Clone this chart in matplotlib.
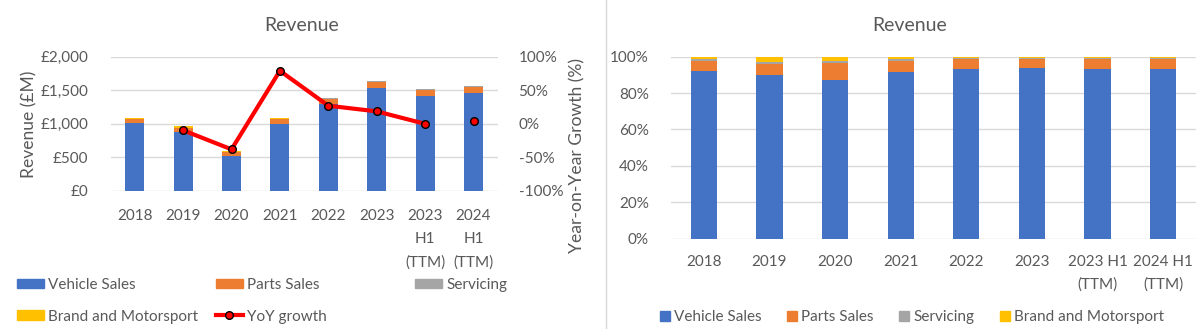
import numpy as np
import matplotlib
matplotlib.use("Agg")
import matplotlib.pyplot as plt
from matplotlib.patches import Patch
from matplotlib.lines import Line2D
from matplotlib.ticker import FuncFormatter

categories_left = ["2018", "2019", "2020", "2021", "2022", "2023", "2023\nH1\n(TTM)", "2024\nH1\n(TTM)"]
categories_right = ["2018", "2019", "2020", "2021", "2022", "2023", "2023 H1\n(TTM)", "2024 H1\n(TTM)"]
vehicle_sales = [1007, 876, 526, 1000, 1295, 1538, 1419, 1465]
parts_sales = [59, 58, 56, 65, 75, 80, 82, 85]
servicing = [12, 11, 6, 12, 11, 13, 12, 12]
brand_motorsport = [14, 28, 14, 15, 7, 9, 8, 8]
yoy_growth = [np.nan, -0.096, -0.38, 0.79, 0.27, 0.186, 0.0, 0.037]

series_names = ["Vehicle Sales", "Parts Sales", "Servicing", "Brand and Motorsport"]
colors = ["#4472C4", "#ED7D31", "#A5A5A5", "#FFC000"]
TXT = "#595959"
GRID = "#D9D9D9"

plt.rcParams['font.family'] = ['Lato', 'DejaVu Sans']
W, H = 1200, 329
fig = plt.figure(figsize=(W / 100, H / 100), dpi=100)

def fx(px):
    return px / W

def fy(py):
    return 1 - py / H

series = [vehicle_sales, parts_sales, servicing, brand_motorsport]
x = np.arange(len(categories_left))

# ---------- Left chart ----------
axL = fig.add_axes([fx(110.5), fy(191), fx(497.7) - fx(110.5), fy(56.7) - fy(191)])
bottom = np.zeros(len(x))
for vals, c, n in zip(series, colors, series_names):
    axL.bar(x, vals, width=0.39, bottom=bottom, color=c, label=n, zorder=2)
    bottom += np.array(vals)
axL.set_xlim(-0.5, len(x) - 0.5)
axL.set_ylim(0, 2000)
axL.set_yticks([0, 500, 1000, 1500, 2000])
axL.yaxis.set_major_formatter(FuncFormatter(lambda v, p: f"£{v:,.0f}"))
axL.grid(axis='y', color=GRID, lw=1, zorder=0)
axL.set_axisbelow(True)
for s in axL.spines.values():
    s.set_visible(False)
axL.tick_params(axis='both', length=0, labelsize=11, labelcolor=TXT)
axL.tick_params(axis='y', pad=16)
axL.tick_params(axis='x', pad=13)
axL.set_xticks(x)
axL.set_xticklabels(categories_left, linespacing=1.8)

axR2 = axL.twinx()
yy = np.array(yoy_growth)
axR2.plot(x[1:7], yy[1:7], color="#FF0000", lw=3, marker='o', ms=5.5,
          mfc="#FF0000", mec="black", mew=1, zorder=5)
axR2.plot(x[7:], yy[7:], color="#FF0000", lw=3, marker='o', ms=5.5,
          mfc="#FF0000", mec="black", mew=1, ls='none', zorder=5)
axR2.set_ylim(-1, 1)
axR2.set_yticks([-1, -0.5, 0, 0.5, 1])
axR2.yaxis.set_major_formatter(FuncFormatter(lambda v, p: f"{v*100:.0f}%"))
for s in axR2.spines.values():
    s.set_visible(False)
axR2.tick_params(axis='y', length=0, labelsize=11, labelcolor=TXT, pad=15)

fig.text(fx(302), fy(30.7), "Revenue", ha='center', va='baseline', fontsize=14, color=TXT)
fig.text(fx(29), fy(124.5), "Revenue (£M)", rotation=90, ha='center', va='center', fontsize=12.6, color=TXT)
fig.text(fx(577), fy(156), "Year-on-Year Growth (%)", rotation=90, ha='center', va='center', fontsize=12.6, color=TXT)

# left legend entries (manual placement)
handles = [Patch(color=c) for c in colors] + [
    Line2D([0], [0], color="#FF0000", lw=3, marker='o', ms=5.5, mfc="#FF0000", mec="black", mew=1)]
labels = series_names + ["YoY growth"]
positions = [(17, 285), (216, 285), (415, 285), (17, 316.5), (216, 316.5)]
for h, l, (px, py) in zip(handles, labels, positions):
    fig.legend([h], [l], loc='center left', bbox_to_anchor=(fx(px), fy(py)),
               frameon=False, fontsize=11, labelcolor=TXT, borderpad=0, borderaxespad=0,
               handlelength=1.75, handleheight=0.55, handletextpad=0.3)

# divider
fig.add_artist(Line2D([fx(606), fx(606)], [0, 1], color=GRID, lw=1))

# ---------- Right chart ----------
axP = fig.add_axes([fx(671), fy(238.5), fx(1196) - fx(671), fy(56.7) - fy(238.5)])
tot = np.sum(np.array(series), axis=0)
bottom = np.zeros(len(x))
for vals, c, n in zip(series, colors, series_names):
    pct = np.array(vals) / tot
    axP.bar(x, pct, width=0.4, bottom=bottom, color=c, label=n, zorder=2)
    bottom += pct
axP.set_xlim(-0.5, len(x) - 0.5)
axP.set_ylim(0, 1)
axP.set_yticks(np.arange(0, 1.01, 0.2))
axP.yaxis.set_major_formatter(FuncFormatter(lambda v, p: f"{v*100:.0f}%"))
axP.grid(axis='y', color=GRID, lw=1, zorder=0)
axP.set_axisbelow(True)
for s in axP.spines.values():
    s.set_visible(False)
axP.tick_params(axis='both', length=0, labelsize=11, labelcolor=TXT)
axP.tick_params(axis='y', pad=16)
axP.tick_params(axis='x', pad=12)
axP.set_xticks(x)
axP.set_xticklabels(categories_right, linespacing=1.75)

fig.text(fx(909.5), fy(30.7), "Revenue", ha='center', va='baseline', fontsize=14, color=TXT)
fig.legend([Patch(color=c) for c in colors], series_names, loc='center',
           bbox_to_anchor=(fx(912), fy(317)), ncol=4, frameon=False, fontsize=11,
           labelcolor=TXT, handlelength=0.65, handleheight=0.65, handletextpad=0.3,
           columnspacing=1.65, borderpad=0, borderaxespad=0)

fig.savefig("out.png", dpi=100)
